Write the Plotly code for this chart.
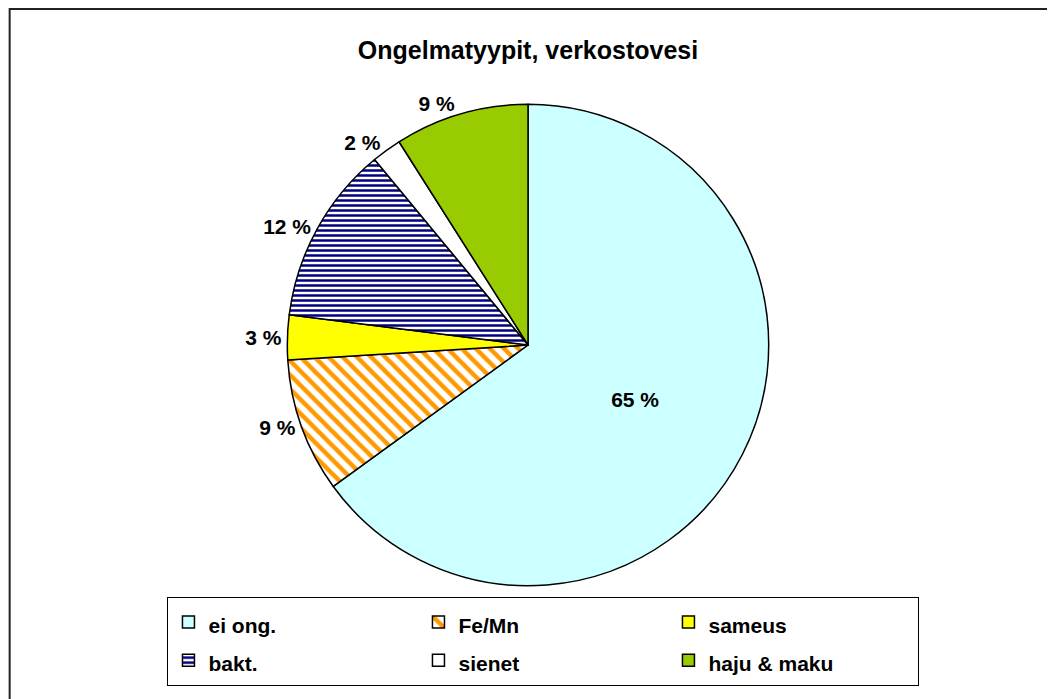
import plotly.graph_objects as go

# Data
categories = ["ei ong.", "Fe/Mn", "sameus", "bakt.", "sienet", "haju & maku"]
values = [65, 9, 3, 12, 2, 9]
slice_colors = ["#CCFFFF", "#FFFFFF", "#FFFF00", "#FFFFFF", "#FFFFFF", "#99CC00"]
pattern_shapes = ["", "\\", "", "-", "", ""]
pattern_fg = ["#CCFFFF", "#FF9900", "#FFFF00", "#000080", "#FFFFFF", "#99CC00"]
text_positions = ["inside", "outside", "outside", "outside", "outside", "outside"]
title_text = "Ongelmatyypit, verkostovesi"

W, H = 1055, 699
OFF = 8  # page offset of the figure (body margin)
ML, MR = 127.5, 127.5
PW = W - ML - MR

def px_x(x):
    return (x - OFF - ML) / PW

def px_y(y):
    return 1 - (y - OFF) / H

FONT = "Liberation Sans, Arial, sans-serif"
LEGEND_TEXT_SIZE = 21
legend_labels = [
    f"<span style='font-size:{LEGEND_TEXT_SIZE}px'>{c}</span>" for c in categories
]

fig = go.Figure(
    go.Pie(
        labels=legend_labels,
        values=values,
        customdata=categories,
        sort=False,
        direction="clockwise",
        rotation=0,
        marker=dict(
            colors=slice_colors,
            line=dict(color="#000000", width=1.5),
            pattern=dict(
                shape=pattern_shapes,
                fgcolor=pattern_fg,
                bgcolor=slice_colors,
                size=[10, 10, 10, 5, 10, 10],
                solidity=[0.3, 0.45, 0.3, 0.5, 0.3, 0.3],
            ),
        ),
        texttemplate="%{value} %",
        textposition=text_positions,
        insidetextorientation="horizontal",
        textfont=dict(family=FONT, size=21, color="#000000", weight="bold"),
        domain=dict(x=[px_x(287), px_x(769)], y=[px_y(586), px_y(104)]),
        hovertemplate="%{customdata}: %{value} %<extra></extra>",
    )
)

fig.update_layout(
    width=W,
    height=H,
    margin=dict(l=ML, r=MR, t=0, b=0, pad=0),
    paper_bgcolor="white",
    plot_bgcolor="white",
    title=dict(
        text=title_text,
        x=px_x(528),
        xref="paper",
        y=px_y(50),
        yref="container",
        xanchor="center",
        yanchor="middle",
        font=dict(family=FONT, size=25, color="#000000", weight="bold"),
    ),
    legend=dict(
        orientation="h",
        x=px_x(167),
        y=px_y(597),
        xanchor="left",
        yanchor="top",
        entrywidth=205,
        bgcolor="white",
        bordercolor="#000000",
        borderwidth=1,
        font=dict(family=FONT, size=27, color="#000000", weight="bold"),
        traceorder="normal",
    ),
    showlegend=True,
    shapes=[
        dict(
            type="rect",
            xref="paper",
            yref="paper",
            x0=px_x(9),
            x1=px_x(1070),
            y0=px_y(720),
            y1=px_y(9),
            line=dict(color="#222222", width=2),
            fillcolor="rgba(0,0,0,0)",
            layer="below",
        )
    ],
)

fig.write_html("out.html")
